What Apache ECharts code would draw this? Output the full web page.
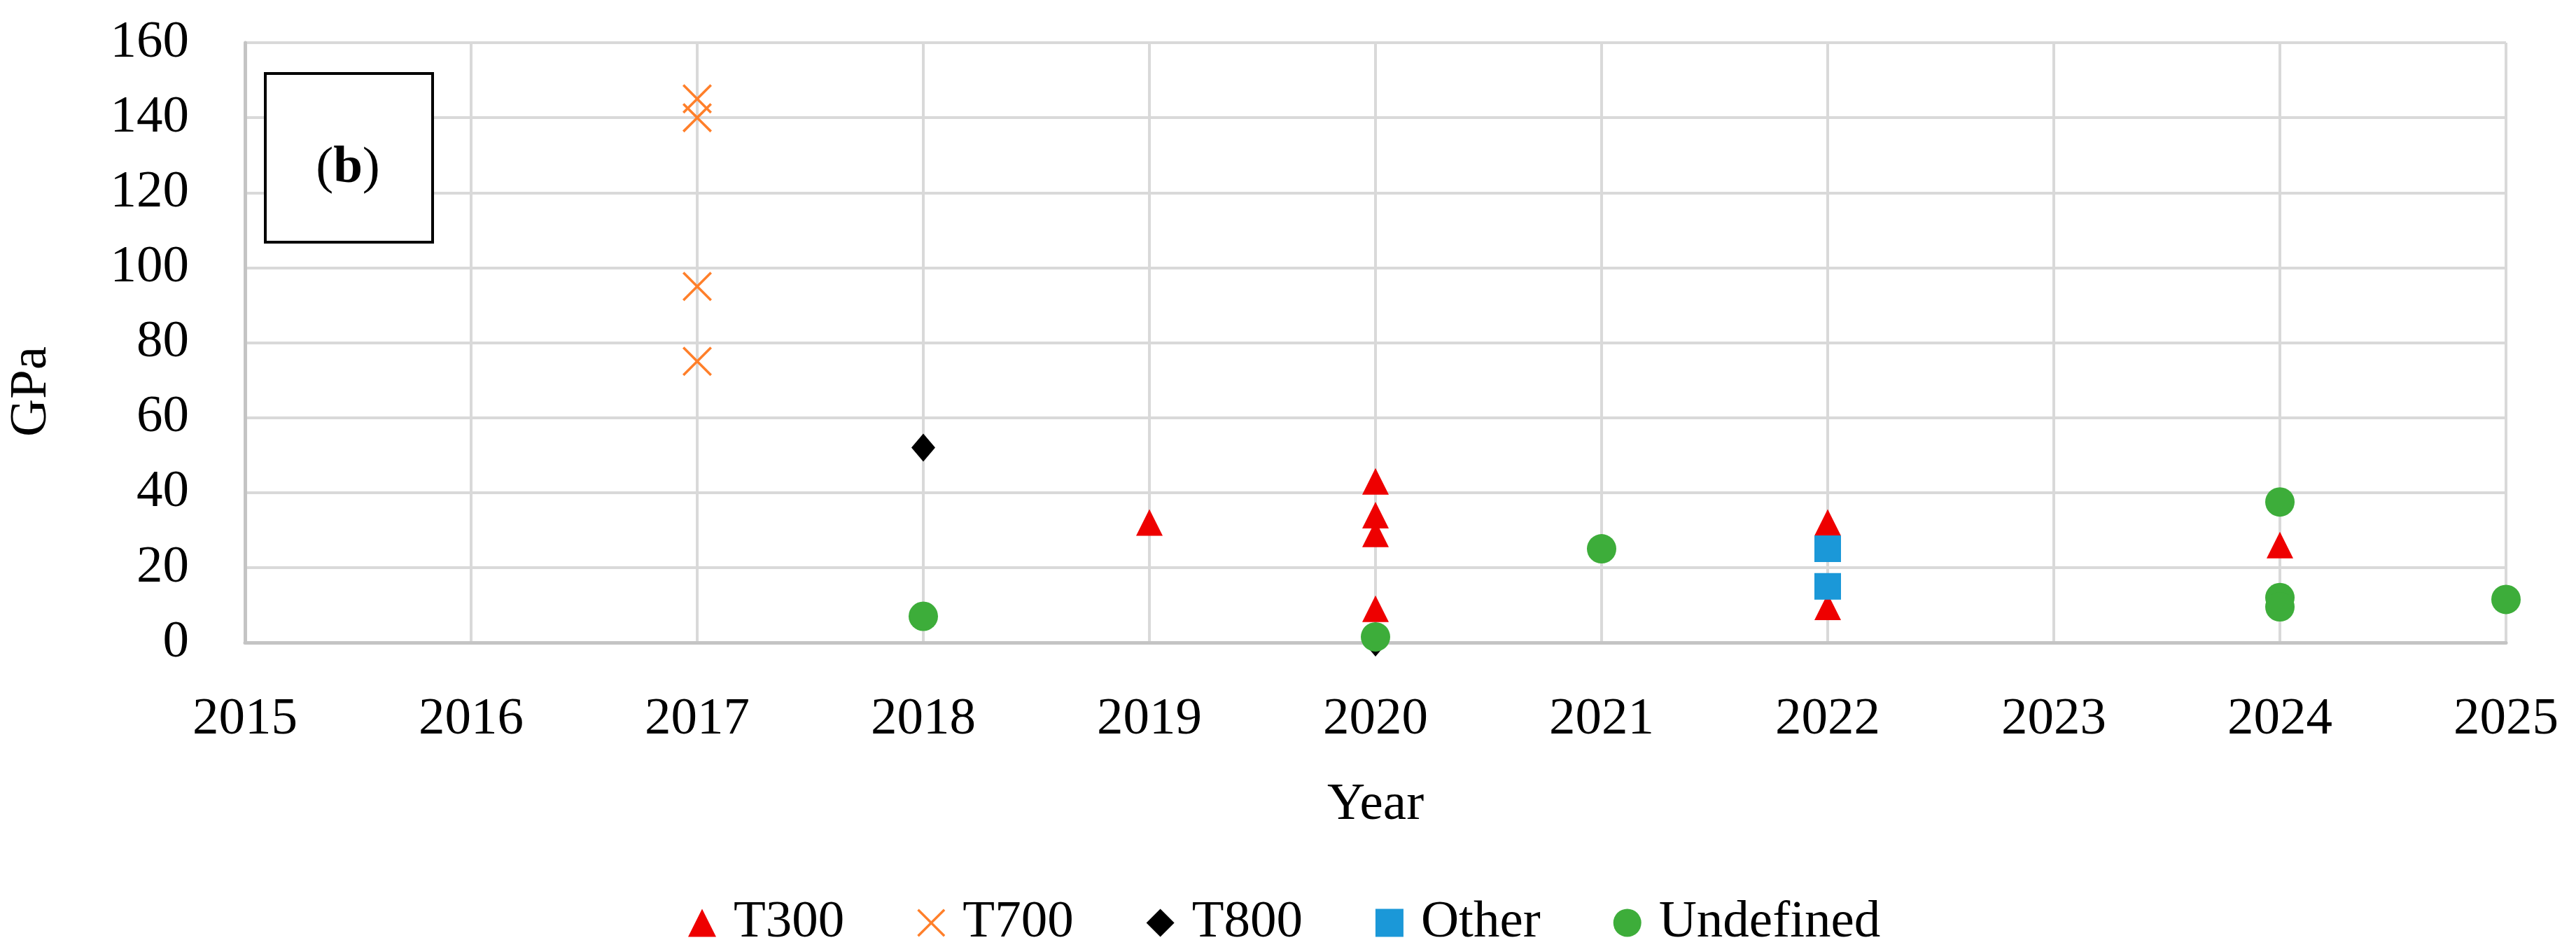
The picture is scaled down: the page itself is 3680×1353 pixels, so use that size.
<!DOCTYPE html>
<html>
<head>
<meta charset="utf-8">
<title>GPa by year (b)</title>
<script src="https://cdn.jsdelivr.net/npm/echarts@6/dist/echarts.min.js"></script>
<style>
  html, body { margin: 0; padding: 0; background: #fff; }
  #chart { width: 3680px; height: 1353px; }
</style>
</head>
<body>
<div id="chart"></div>
<script>
// values (year, GPa)
const t300Years = [2019, 2020, 2020, 2020, 2020, 2022, 2022, 2024];
const t300Values = [32, 43, 34, 29, 9, 32, 9.5, 26];
const t700Years = [2017, 2017, 2017, 2017];
const t700Values = [145, 140, 95, 75];
const t800Years = [2018, 2020];
const t800Values = [52, 0];
const otherYears = [2022, 2022];
const otherValues = [25, 15];
const undefinedYears = [2018, 2020, 2021, 2024, 2024, 2024, 2025];
const undefinedValues = [7, 1.5, 25, 37.5, 12, 9.5, 11.5];

const seriesNames = ['T300', 'T700', 'T800', 'Other', 'Undefined'];

function pairs(xs, ys) {
  return xs.map(function (x, i) { return [x, ys[i]]; });
}

var font = 'Liberation Serif';
var fs = 75;
// filled X shape, Excel style cross marker
var crossPath = 'path://M0,6L6,0L50,44L94,0L100,6L56,50L100,94L94,100L50,56L6,100L0,94L44,50Z';

var chart = echarts.init(document.getElementById('chart'));

var option = {
  backgroundColor: '#fff',
  animation: false,
  textStyle: { fontFamily: font, color: '#000' },
  grid: { left: 342, right: 100, top: 61, bottom: 435 },
  legend: {
    left: 978,
    top: 1276,
    itemWidth: 40,
    itemHeight: 40,
    itemGap: 104,
    data: seriesNames,
    textStyle: { fontFamily: font, fontSize: fs, color: '#000', padding: [0, 0, 0, 20] }
  },
  xAxis: {
    type: 'value',
    min: 2015,
    max: 2025,
    interval: 1,
    name: 'Year',
    nameLocation: 'middle',
    nameGap: 195,
    nameTextStyle: { fontFamily: font, fontSize: fs, color: '#000' },
    axisLine: { show: true, lineStyle: { color: '#c4c4c4', width: 5 } },
    axisTick: { show: false },
    axisLabel: {
      margin: 73, fontFamily: font, fontSize: fs, color: '#000',
      formatter: function (v) { return String(v); }
    },
    splitLine: { show: true, lineStyle: { color: '#d9d9d9', width: 4 } }
  },
  yAxis: {
    type: 'value',
    min: 0,
    max: 160,
    interval: 20,
    name: 'GPa',
    nameLocation: 'middle',
    nameGap: 267,
    nameTextStyle: { fontFamily: font, fontSize: fs, color: '#000', padding: [0, 140, 0, 0] },
    axisLine: { show: true, lineStyle: { color: '#c4c4c4', width: 5 } },
    axisTick: { show: false },
    axisLabel: { margin: 80, fontFamily: font, fontSize: fs, color: '#000' },
    splitLine: { show: true, lineStyle: { color: '#d9d9d9', width: 4 } }
  },
  graphic: [
    {
      type: 'rect',
      shape: { x: 379, y: 105, width: 239, height: 241 },
      style: { fill: '#fff', stroke: '#000', lineWidth: 4 },
      z: 10
    },
    {
      type: 'text',
      x: 497,
      y: 241,
      z: 11,
      style: {
        text: '{n|(}{bb|b}{n|)}',
        align: 'center',
        verticalAlign: 'middle',
        rich: {
          n: { fontFamily: font, fontSize: fs, color: '#000' },
          bb: { fontFamily: font, fontSize: fs, fontWeight: 'bold', color: '#000' }
        }
      }
    }
  ],
  series: [
    {
      name: 'T300', type: 'scatter', symbol: 'triangle', symbolSize: 38,
      itemStyle: { color: '#ee0000', opacity: 1 },
      data: pairs(t300Years, t300Values)
    },
    {
      name: 'T700', type: 'scatter', symbol: crossPath, symbolSize: 42,
      itemStyle: { color: '#ff7f2a', opacity: 1 },
      data: pairs(t700Years, t700Values)
    },
    {
      name: 'T800', type: 'scatter', symbol: 'diamond', symbolSize: [34, 40],
      itemStyle: { color: '#000', opacity: 1 },
      data: pairs(t800Years, t800Values)
    },
    {
      name: 'Other', type: 'scatter', symbol: 'rect', symbolSize: 38,
      itemStyle: { color: '#1b98d8', opacity: 1 },
      data: pairs(otherYears, otherValues)
    },
    {
      name: 'Undefined', type: 'scatter', symbol: 'circle', symbolSize: 42,
      itemStyle: { color: '#3dad3a', opacity: 1 },
      data: pairs(undefinedYears, undefinedValues)
    }
  ]
};

chart.setOption(option);

window.addEventListener('resize', function () {
  chart.resize();
});
</script>
</body>
</html>
